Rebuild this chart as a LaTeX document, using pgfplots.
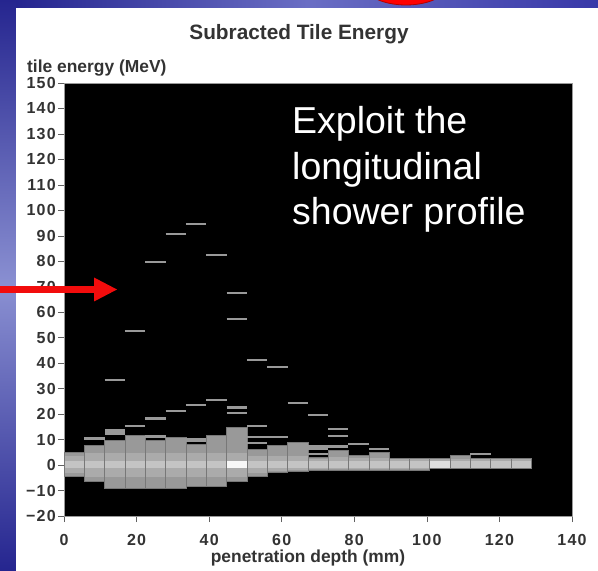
\documentclass[border=0pt]{standalone}
\usepackage{fontspec}
\setmainfont{Liberation Sans}
\newfontfamily\tickfont[LetterSpace=8]{Liberation Sans}
\usepackage{pgfplots}
\pgfplotsset{compat=1.18}
\definecolor{bandc}{gray}{0.6}
\definecolor{midc}{gray}{0.67}
\definecolor{corec}{gray}{0.77}
\definecolor{lightc}{gray}{0.87}
\definecolor{whitec}{gray}{0.97}
\definecolor{linec}{gray}{0.6}
\definecolor{sepc}{gray}{0.47}
\definecolor{txt}{HTML}{333333}
\definecolor{bluebase}{HTML}{3838A8}
\definecolor{bluedark}{HTML}{25258F}
\definecolor{bluelight}{HTML}{8A90D2}
\definecolor{bluemid}{HTML}{6A6EC4}
\definecolor{arrowred}{HTML}{F20C0C}
% rectangle: x0 x1 lo hi colour
\newcommand{\bx}[5]{\addplot[fill=#5, draw=none] coordinates {(#1,#3) (#2,#3) (#2,#4) (#1,#4)} -- cycle;}
\newcommand{\ol}[4]{\addplot[draw=sepc, line width=0.6pt, fill=none] coordinates {(#1,#3) (#2,#3) (#2,#4) (#1,#4)} -- cycle;}
% column of the band: x0 x1 lo hi midlo midhi corecolour
\newcommand{\col}[7]{\bx{#1}{#2}{#3}{#4}{bandc}\bx{#1}{#2}{#5}{#6}{midc}\bx{#1}{#2}{-1.2}{1.4}{#7}\ol{#1}{#2}{#3}{#4}}
% single energy bin: x0 x1 value
\newcommand{\hl}[3]{\addplot[draw=linec, line width=2.2pt, line cap=butt] coordinates {(#1,#3) (#2,#3)};}
\begin{document}
\begin{tikzpicture}
\useasboundingbox (0,0) rectangle (598pt,571pt);
\begin{scope}
\clip (0,0) rectangle (598pt,571pt);
\fill[bluebase] (0,0) rectangle (598pt,571pt);
\shade[top color=bluedark, bottom color=bluedark, middle color=bluelight] (0,0) rectangle (16pt,571pt);
\shade[left color=bluedark, right color=bluebase, middle color=bluemid] (16pt,563pt) rectangle (598pt,571pt);
\fill[red, draw=red!70!black, line width=0.8pt] (406pt,590pt) ellipse [x radius=45pt, y radius=24pt];
\fill[white] (16pt,0) rectangle (598pt,563pt);
\end{scope}
\begin{axis}[
  at={(64pt,55pt)}, anchor=south west,
  scale only axis, width=508pt, height=433pt,
  xmin=0, xmax=140, ymin=-20, ymax=150,
  axis background/.style={fill=black},
  axis line style={draw=gray!80, line width=0.6pt},
  xtick={0,20,40,60,80,100,120,140},
  xticklabels={0,20,40,60,80,100,120,140},
  ytick={-20,-10,0,10,20,30,40,50,60,70,80,90,100,110,120,130,140,150},
  yticklabels={−20,−10,0,10,20,30,40,50,60,70,80,90,100,110,120,130,140,150},
  xtick pos=bottom, ytick pos=left,
  tick align=outside, major tick length=6pt,
  tick style={draw=gray!75!black, line width=0.6pt},
  ticklabel style={font=\tickfont\fontsize{16}{16}\selectfont\bfseries, text=txt},
  yticklabel style={inner xsep=2pt},
  xticklabel style={inner ysep=0pt, yshift=-12pt},
  clip=true,
]
\col{0}{5.6}{-4.3}{4.9}{-3.3}{3.6}{corec}
\col{5.6}{11.2}{-6.2}{7.8}{-4.5}{4.6}{corec}
\col{11.2}{16.8}{-9.2}{9.7}{-4.5}{4.6}{corec}
\col{16.8}{22.4}{-9.2}{11.5}{-4.5}{4.6}{corec}
\col{22.4}{28}{-9.2}{9.8}{-4.5}{4.6}{corec}
\col{28}{33.6}{-9.2}{10.8}{-4.5}{4.6}{corec}
\col{33.6}{39.2}{-8.3}{8.3}{-4.5}{4.6}{corec}
\col{39.2}{44.8}{-8.3}{11.6}{-4.5}{4.6}{corec}
\col{44.8}{50.4}{-6.3}{14.7}{-4.5}{4.6}{whitec}
\col{50.4}{56}{-4.3}{6.2}{-3.3}{3.6}{corec}
\col{56}{61.6}{-3.0}{7.8}{-2.4}{3.6}{corec}
\col{61.6}{67.2}{-2.6}{8.8}{-2.0}{3.6}{corec}
\col{67.2}{72.8}{-2.1}{2.9}{-1.6}{2.2}{corec}
\col{72.8}{78.4}{-2.1}{5.8}{-1.6}{3.0}{corec}
\col{78.4}{84}{-2.1}{3.8}{-1.6}{2.6}{corec}
\col{84}{89.6}{-2.1}{4.9}{-1.6}{2.8}{corec}
\col{89.6}{95.2}{-2.1}{2.7}{-1.6}{2.2}{corec}
\col{95.2}{100.8}{-2.1}{2.7}{-1.6}{2.2}{corec}
\col{100.8}{106.4}{-1.3}{2.7}{-1.3}{2.2}{lightc}
\col{106.4}{112}{-1.3}{3.8}{-1.3}{2.2}{corec}
\col{112}{117.6}{-1.3}{2.7}{-1.3}{2.2}{corec}
\col{117.6}{123.2}{-1.3}{2.7}{-1.3}{2.2}{corec}
\col{123.2}{128.8}{-1.3}{2.7}{-1.3}{2.2}{corec}
\bx{11.2}{16.8}{11.7}{14.0}{linec}
\bx{33.6}{39.2}{9.1}{10.6}{linec}
\bx{67.2}{72.8}{5.8}{7.8}{linec}
\hl{5.6}{11.2}{10.4}
\hl{11.2}{16.8}{33.5}
\hl{16.8}{22.4}{15.4}
\hl{16.8}{22.4}{52.5}
\hl{22.4}{28}{11.2}
\hl{22.4}{28}{18.3}
\hl{22.4}{28}{79.6}
\hl{28}{33.6}{21.3}
\hl{28}{33.6}{90.6}
\hl{33.6}{39.2}{23.5}
\hl{33.6}{39.2}{94.5}
\hl{39.2}{44.8}{25.4}
\hl{39.2}{44.8}{82.4}
\hl{44.8}{50.4}{20.4}
\hl{44.8}{50.4}{22.6}
\hl{44.8}{50.4}{57.5}
\hl{44.8}{50.4}{67.5}
\hl{50.4}{56}{8.8}
\hl{50.4}{56}{11.0}
\hl{50.4}{56}{15.3}
\hl{50.4}{56}{41.4}
\hl{56}{61.6}{11.0}
\hl{56}{61.6}{38.4}
\hl{61.6}{67.2}{24.5}
\hl{67.2}{72.8}{4.4}
\hl{67.2}{72.8}{19.5}
\hl{72.8}{78.4}{7.3}
\hl{72.8}{78.4}{11.3}
\hl{72.8}{78.4}{14.3}
\hl{78.4}{84}{8.4}
\hl{84}{89.6}{6.4}
\hl{112}{117.6}{4.4}
\end{axis}
\node[anchor=base, inner sep=0pt, text=txt, font=\fontsize{20.8}{22}\selectfont\bfseries] at (299pt,531pt) {Subracted Tile Energy};
\node[anchor=base west, inner sep=0pt, text=txt, font=\fontsize{17.4}{19}\selectfont\bfseries] at (27pt,498.5pt) {tile energy (MeV)};
\node[anchor=base, inner sep=0pt, text=txt, font=\fontsize{17.4}{19}\selectfont\bfseries] at (308pt,8pt) {penetration depth (mm)};
\node[anchor=base west, inner sep=0pt, text=white, font=\fontsize{37.5}{45}\selectfont] at (292pt,437pt) {Exploit the};
\node[anchor=base west, inner sep=0pt, text=white, font=\fontsize{37.5}{45}\selectfont] at (292pt,391pt) {longitudinal};
\node[anchor=base west, inner sep=0pt, text=white, font=\fontsize{37.5}{45}\selectfont] at (292pt,346pt) {shower profile};
\fill[arrowred] (0,278pt) rectangle (95pt,285pt);
\fill[arrowred] (94pt,293.5pt) -- (117pt,281.5pt) -- (94pt,269.5pt) -- cycle;
\end{tikzpicture}
\end{document}
